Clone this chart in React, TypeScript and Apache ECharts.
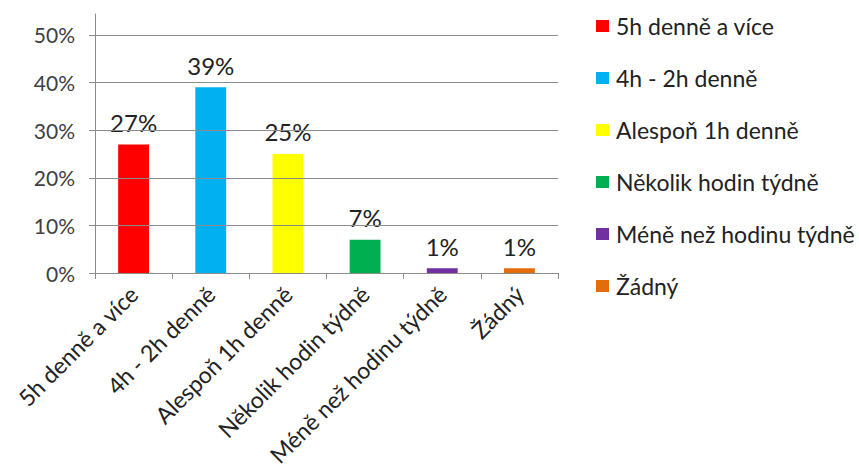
import React, { useEffect, useRef } from "react";
import * as echarts from "echarts";

const categories = [
  "5h denně a více",
  "4h - 2h denně",
  "Alespoň 1h denně",
  "Několik hodin týdně",
  "Méně než hodinu týdně",
  "Žádný",
];
const values = [27, 39, 25, 7, 1, 1];
const colors = ["#FF0000", "#00B0F0", "#FFFF00", "#00B050", "#7030A0", "#E46C0A"];
const yTicks = [0, 10, 20, 30, 40, 50];
const yMax = 54.4;

const FONT = "Lato, 'Open Sans', sans-serif";

export default function App() {
  const ref = useRef<HTMLDivElement>(null);
  useEffect(() => {
    if (!ref.current) return;
    const chart = echarts.init(ref.current, undefined, { renderer: "svg" });
    const series = categories.map((name, i) => ({
      name,
      type: "bar",
      stack: "all",
      barCategoryGap: "60%",
      data: categories.map((_, j) => (j === i ? values[i] : "-")),
      itemStyle: { color: colors[i] },
      label: {
        show: true,
        position: "top",
        distance: 10,
        formatter: (p: any) => p.value + "%",
        fontFamily: FONT,
        fontSize: 24,
        color: "#222",
      },
      markLine:
        i === 0
          ? {
              silent: true,
              symbol: "none",
              label: { show: false },
              lineStyle: { color: "#8c8c8c", type: "solid", width: 1 },
              data: yTicks.slice(1).map((v) => ({ yAxis: v })),
            }
          : undefined,
    }));
    chart.setOption({
      animation: false,
      textStyle: { fontFamily: FONT },
      grid: { left: 95, right: 301, top: 14, bottom: 199, containLabel: false },
      legend: {
        orient: "vertical",
        left: 591,
        top: 9,
        itemWidth: 13,
        itemHeight: 12,
        itemGap: 28,
        icon: "rect",
        data: categories,
        textStyle: { fontFamily: FONT, fontSize: 23, color: "#222", lineHeight: 24, padding: [0, 0, 0, 2] },
      },
      xAxis: {
        type: "category",
        data: categories,
        axisLine: { lineStyle: { color: "#8c8c8c" } },
        axisTick: { show: true, length: 6, alignWithLabel: false, lineStyle: { color: "#8c8c8c" } },
        axisLabel: {
          interval: 0,
          rotate: 45,
          margin: 17,
          fontFamily: FONT,
          fontSize: 23,
          color: "#222",
        },
      },
      yAxis: {
        type: "value",
        min: 0,
        max: yMax,
        interval: 10,
        axisLine: { show: true, lineStyle: { color: "#8c8c8c" } },
        axisTick: { show: true, length: 6, customValues: yTicks, lineStyle: { color: "#8c8c8c" } },
        splitLine: { show: false },
        axisLabel: {
          customValues: yTicks,
          formatter: (v: number) => Math.round(v) + "%",
          margin: 20,
          fontFamily: FONT,
          fontSize: 21,
          color: "#404040",
        },
      },
      series,
    });
    return () => chart.dispose();
  }, []);
  return (
    <div
      ref={ref}
      style={{ position: "fixed", left: 0, top: 0, width: 859, height: 472, background: "#fff" }}
    />
  );
}
